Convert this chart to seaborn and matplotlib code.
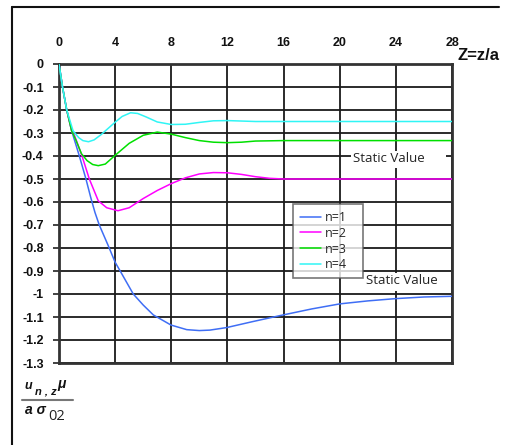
import numpy as np
import pandas as pd
import matplotlib
matplotlib.use("Agg")
import matplotlib.pyplot as plt
from matplotlib.lines import Line2D
from matplotlib.patches import Rectangle
import seaborn as sns

# Normalised displacement u_{n,z} mu / (a sigma_02) versus Z = z/a
z1 = [0, 0.25, 0.55, 0.9, 1.45, 1.92, 2.26, 2.56, 2.87, 3.51, 4.0, 4.35, 5.29, 6.0, 6.72,
      7.98, 9.1, 10.0, 10.75, 11.94, 13.8, 15.74, 18, 20, 22, 24, 26, 28]
u1 = [0, -0.10, -0.20, -0.29, -0.40, -0.50, -0.58, -0.645, -0.70, -0.79, -0.862, -0.899,
      -1.0, -1.048, -1.091, -1.135, -1.155, -1.159, -1.157, -1.146, -1.12, -1.094, -1.065,
      -1.043, -1.03, -1.02, -1.013, -1.01]

z2 = [0, 0.25, 0.55, 0.9, 1.1, 1.64, 2.16, 2.8, 3.4, 4.2, 5, 6, 7, 8, 9, 10, 11, 12, 13,
      14, 15, 16, 20, 28]
u2 = [0, -0.10, -0.20, -0.29, -0.31, -0.40, -0.50, -0.595, -0.625, -0.638, -0.625, -0.585,
      -0.55, -0.52, -0.495, -0.478, -0.472, -0.473, -0.48, -0.49, -0.497, -0.5, -0.5, -0.5]

z3 = [0, 0.25, 0.55, 0.9, 1.2, 1.6, 2.0, 2.4, 2.8, 3.3, 4.0, 5.0, 6.0, 7.0, 8, 9, 10, 11,
      12, 13, 14, 16, 20, 28]
u3 = [0, -0.10, -0.20, -0.29, -0.33, -0.39, -0.42, -0.437, -0.442, -0.435, -0.397, -0.345,
      -0.31, -0.296, -0.305, -0.32, -0.333, -0.34, -0.342, -0.34, -0.335, -0.333, -0.333,
      -0.333]

z4 = [0, 0.25, 0.55, 1.0, 1.4, 1.7, 2.1, 2.5, 3.0, 3.5, 4.0, 4.5, 5.1, 5.6, 6.2, 7, 8, 9,
      10, 11, 12, 13, 14, 16, 18, 20, 28]
u4 = [0, -0.10, -0.20, -0.29, -0.32, -0.333, -0.338, -0.33, -0.307, -0.28, -0.253, -0.228,
      -0.212, -0.215, -0.23, -0.252, -0.263, -0.262, -0.254, -0.247, -0.246, -0.248, -0.25,
      -0.25, -0.25, -0.25, -0.25]

series_names = ["n=1", "n=2", "n=3", "n=4"]
series_colors = ["#3f6ef5", "#ff00ff", "#00e000", "#30f5f5"]

x_ticks = [0, 4, 8, 12, 16, 20, 24, 28]
y_ticks = [0, -0.1, -0.2, -0.3, -0.4, -0.5, -0.6, -0.7, -0.8, -0.9, -1, -1.1, -1.2, -1.3]
y_tick_labels = ["0", "-0.1", "-0.2", "-0.3", "-0.4", "-0.5", "-0.6", "-0.7", "-0.8",
                 "-0.9", "-1", "-1.1", "-1.2", "-1.3"]

frames = []
for name, zs, us in zip(series_names, [z1, z2, z3, z4], [u1, u2, u3, u4]):
    frames.append(pd.DataFrame({"Z": zs, "u": us, "n": name}))
df = pd.concat(frames, ignore_index=True)

sns.set_theme(style="white")
plt.rcParams["font.family"] = ["Liberation Sans", "DejaVu Sans"]

W, H = 507, 445
fig = plt.figure(figsize=(W / 100, H / 100), dpi=100)
ax = fig.add_axes([59 / W, 1 - 363 / H, (452 - 59) / W, (363 - 64) / H])


def px(x, y):
    return x / W, 1 - y / H


# figure frame (top and left edges)
fig.add_artist(Line2D([12 / W, 499 / W], [1 - 7 / H, 1 - 7 / H], color="#111111", lw=1.5))
fig.add_artist(Line2D([12 / W, 12 / W], [1 - 7 / H, 0], color="#111111", lw=1.5))

sns.lineplot(data=df, x="Z", y="u", hue="n", palette=series_colors, sort=False,
             estimator=None, lw=1.1, ax=ax, legend=False, zorder=3)

ax.set_xlim(0, 28)
ax.set_ylim(-1.3, 0)
ax.set_xticks(x_ticks)
ax.set_xticklabels([str(t) for t in x_ticks])
ax.set_yticks(y_ticks)
ax.set_yticklabels(y_tick_labels)
ax.xaxis.tick_top()
ax.tick_params(axis="x", top=False, bottom=False, labelsize=9, pad=5)
ax.tick_params(axis="y", left=True, length=4, width=1.2, color="#222222",
               labelsize=9, pad=7)
for lab in ax.get_xticklabels() + ax.get_yticklabels():
    lab.set_fontweight("bold")
    lab.set_color("#111111")
ax.set_xlabel("")
ax.set_ylabel("")
ax.grid(True, color="#1a1a1a", lw=1.3)
ax.set_axisbelow(True)
for s in ax.spines.values():
    s.set_visible(True)
    s.set_color("#333333")
    s.set_linewidth(2)

# legend
handles = [Line2D([], [], color=c, lw=1.1) for c in series_colors]
leg = ax.legend(handles, series_names, loc="upper left",
                bbox_to_anchor=(0.595, 0.2886, 0.178, 0.2424), mode="expand",
                borderaxespad=0, frameon=True, fancybox=False,
                handlelength=1.7, handletextpad=0.3, labelspacing=0.22, borderpad=0.55,
                prop={"family": ["Open Sans", "DejaVu Sans"], "size": 9})
leg.get_frame().set_edgecolor("#555555")
leg.get_frame().set_linewidth(1.2)
leg.set_zorder(5)

# "Static Value" labels with white backing
for (x0, y0, x1, y1) in [(351, 151, 446, 168), (364, 273, 446, 291)]:
    fig.add_artist(Rectangle(px(x0, y1), (x1 - x0) / W, (y1 - y0) / H,
                             facecolor="white", edgecolor="none", zorder=4))
fig.text(*px(353, 159), "Static Value", fontsize=9.5, ha="left", va="center",
         family=["Open Sans", "DejaVu Sans"], color="#222222", zorder=5)
fig.text(*px(366, 281), "Static Value", fontsize=9.5, ha="left", va="center",
         family=["Open Sans", "DejaVu Sans"], color="#222222", zorder=5)

# axis titles
fig.text(*px(458, 56), "Z=z/a", fontsize=12, fontweight="bold", ha="left", va="center",
         color="#111111")

fig.text(*px(24, 389), "u", fontsize=9, fontweight="bold", style="italic",
         ha="left", va="baseline", color="#111111")
fig.text(*px(35, 395), "n , z", fontsize=8, fontweight="bold", style="italic",
         ha="left", va="baseline", color="#111111")
fig.text(*px(57, 388), "μ", fontsize=10, fontweight="bold", style="italic",
         ha="left", va="baseline", color="#111111")
fig.add_artist(Line2D([22 / W, 73 / W], [1 - 400 / H, 1 - 400 / H], color="#777777", lw=1.5))
fig.text(*px(25, 414), "a σ", fontsize=10, fontweight="bold", style="italic",
         ha="left", va="baseline", color="#111111")
fig.text(*px(48, 420), "02", fontsize=10.5, ha="left", va="baseline",
         family=["Open Sans", "DejaVu Sans"], color="#222222")

fig.savefig("out.png", dpi=100, facecolor="white")
